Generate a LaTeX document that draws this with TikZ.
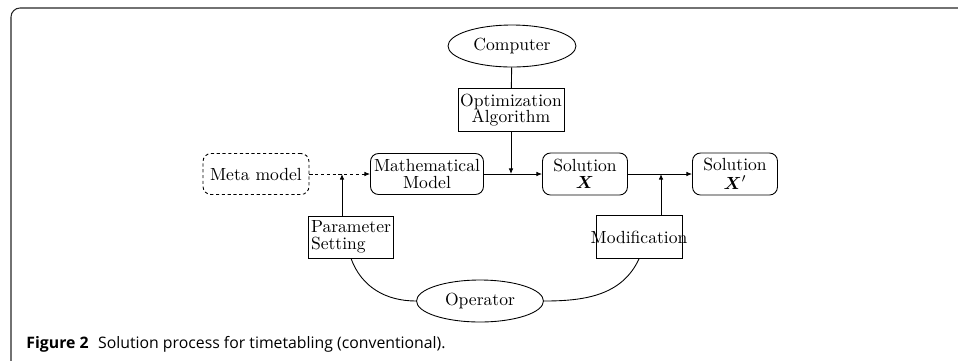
\documentclass[tikz,border=0pt]{standalone}
\usepackage{amsmath}
\usepackage{fontspec}
\newfontfamily\capfont{Open Sans}
\usetikzlibrary{shapes.geometric,arrows.meta}

\tikzset{
  proc/.style={draw, rounded corners=0.16cm, minimum width=1.7cm, minimum height=0.84cm, inner sep=2pt, align=center},
  task/.style={draw, minimum width=1.7cm, minimum height=0.84cm, inner sep=1pt, align=center},
  agent/.style={draw, ellipse, minimum width=2.56cm, minimum height=0.84cm, inner sep=0pt},
  flow/.style={-{Latex[length=3.2pt,width=2.6pt]}},
  hint/.style={dash pattern=on 1.8pt off 1.5pt}
}

\begin{document}
\begin{tikzpicture}[x=0.02cm, y=-0.02cm, line width=0.5pt]
      \useasboundingbox (0,0) rectangle (958,360);
      \draw[black!85, line width=0.6pt, rounded corners=0.18cm] (11,364) -- (11,8) -- (962,8);
      \draw
        (512,46) node[agent] (comp) {Computer}
        (511,110) node[task, minimum width=2.12cm, minimum height=0.86cm] (opt) {Optimization\\[-2.5pt]Algorithm}
        (256,174) node[proc, hint, minimum width=2.12cm, minimum height=0.82cm] (meta) {Meta model}
        (427,174) node[proc, minimum width=2.14cm, minimum height=0.82cm] (math) {Mathematical\\[-2.5pt]Model}
        (585,174) node[proc] (sol) {Solution\\[-2.5pt]$\boldsymbol{X}$}
        (735,174) node[proc] (solp) {Solution\\[-1pt]$\boldsymbol{X}'$}
        (351,237) node[task, align=left] (param) {Parameter\\[-2.5pt]Setting}
        (639,237) node[task, inner xsep=0.06cm, minimum height=0.86cm] (mod) {\makebox[1.6cm]{Modification}}
        (480,301) node[agent, minimum width=2.54cm] (oper) {Operator};
      \coordinate (jmeta) at (342,174);
      \coordinate (jopt) at (opt |- sol);
      \coordinate (jmod) at (661,174);
      \begin{scope}[flow]
        \draw[-] (comp) to (opt);
        \draw (opt) to (jopt);
        \draw (math) to (sol);
        \draw (sol) to (solp);
        \draw[hint] (meta) to (math);
        \draw (param.north -| jmeta) to (jmeta);
        \draw (mod.north -| jmod) to (jmod);
      \end{scope}
      \draw (param.south) to[out=-70, in=180] (oper.west);
      \draw (mod.south) to[out=-115, in=0] (oper.east);
      \node[anchor=base west, inner sep=0pt, font=\capfont\fontsize{9pt}{10pt}\selectfont] (cap) at (26,348)
        {\textbf{Figure 2}\hspace{0.6em}Solution process for timetabling (conventional).};
    \end{tikzpicture}
\end{document}
